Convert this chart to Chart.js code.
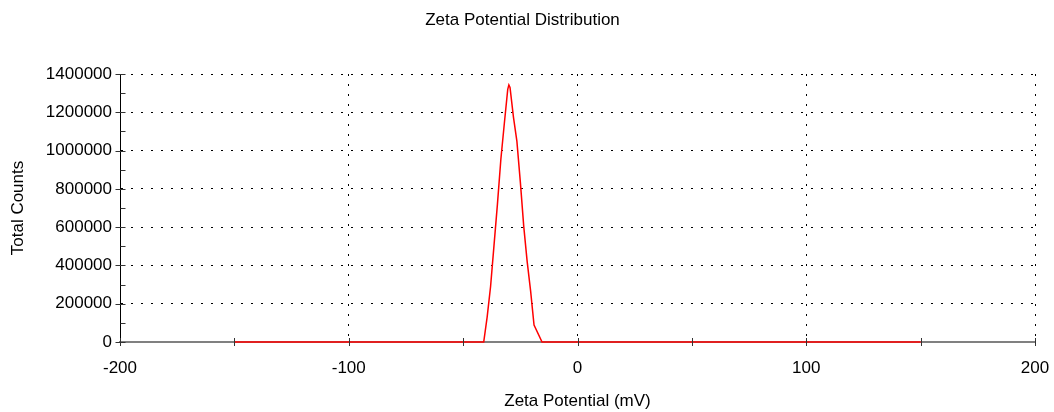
<!DOCTYPE html>
<html>
<head>
<meta charset="utf-8">
<title>Zeta Potential Distribution</title>
<script src="https://cdn.jsdelivr.net/npm/chart.js@4.4.1/dist/chart.umd.min.js"></script>
<style>
  html, body { margin: 0; padding: 0; background: #fff; }
  canvas { display: block; }
</style>
</head>
<body>
<canvas id="zeta-chart" width="1054" height="412"></canvas>
<script>
// Zeta potential distribution.

const zetaMv = [-150, -41, -39.5, -38, -36.5, -35, -33.5, -32, -30.5, -30, -29.5, -28, -26.5, -25, -23.5, -22, -20.5, -19, -15.5, 150];
const totalCounts = [0, 0, 130000, 290000, 505000, 720000, 955000, 1140000, 1320000, 1343000, 1330000, 1175000, 1049000, 838000, 604000, 420000, 267000, 89000, 0, 0];

const xMin = -200, xMax = 200, xStep = 100, xMinorStep = 50;
const yMin = 0, yMax = 1400000, yStep = 200000, yMinorStep = 100000;

const FONT = '"Liberation Sans", Arial, sans-serif';

// small tick marks that cross the axes, plus minor ones
const axisTicks = {
  id: 'axisTicks',
  afterDatasetsDraw(chart) {
    const { ctx, scales: { x, y } } = chart;
    ctx.save();
    ctx.strokeStyle = '#333';
    ctx.lineWidth = 1;
    ctx.beginPath();
    const ax = Math.round(x.left) + 0.5;
    for (let v = yMin; v <= yMax; v += yMinorStep) {
      const py = Math.round(y.getPixelForValue(v)) + 0.5;
      const major = v % yStep === 0;
      ctx.moveTo(ax - (major ? 5 : 0), py);
      ctx.lineTo(ax + 5, py);
    }
    const ay = y.bottom;
    for (let v = xMin; v <= xMax; v += xMinorStep) {
      const px = Math.round(x.getPixelForValue(v)) + 0.5;
      ctx.moveTo(px, ay - 4);
      ctx.lineTo(px, ay + 4);
    }
    ctx.stroke();
    ctx.restore();
  }
};

function init() {
  const ctx = document.getElementById('zeta-chart');
  Chart.defaults.font.family = FONT;
  Chart.defaults.font.size = 17;
  Chart.defaults.color = '#000';

  new Chart(ctx, {
    type: 'line',
    data: {
      datasets: [{
        label: 'Total Counts',
        data: zetaMv.map((v, i) => ({ x: v, y: totalCounts[i] })),
        borderColor: '#ff0000',
        borderWidth: 1.5,
        pointRadius: 0,
        tension: 0,
        fill: false,
        clip: false,
      }]
    },
    options: {
      responsive: false,
      animation: false,
      layout: { padding: { left: 0, right: 9, top: 0, bottom: 0 } },
      plugins: {
        legend: { display: false },
        tooltip: { enabled: false },
        title: {
          display: true,
          text: 'Zeta Potential Distribution',
          color: '#000',
          font: { size: 17, weight: 'normal' },
          padding: { top: 10, bottom: 43.6 }
        }
      },
      scales: {
        x: {
          type: 'linear',
          min: xMin,
          max: xMax,
          afterFit: s => { s.height = 70; s.paddingLeft = 0; s.paddingRight = 19; },
          ticks: {
            stepSize: xStep,
            padding: 16,
            maxRotation: 0,
            callback: v => String(v)
          },
          grid: { color: '#000', lineWidth: 1, drawTicks: false },
          border: { color: '#808080', width: 2, dash: [2, 8] },
          title: {
            display: true,
            text: 'Zeta Potential (mV)',
            font: { size: 17 },
            padding: { top: 0, bottom: 0 }
          }
        },
        y: {
          type: 'linear',
          min: yMin,
          max: yMax,
          afterFit: s => { s.width = 120; },
          ticks: {
            stepSize: yStep,
            padding: 8,
            callback: v => String(v)
          },
          grid: { color: '#000', lineWidth: 1, drawTicks: false },
          border: { color: '#000', width: 1, dash: [2, 8] },
          title: {
            display: true,
            text: 'Total Counts',
            font: { size: 17 },
            padding: { top: 8, bottom: 0 }
          }
        }
      }
    },
    plugins: [axisTicks]
  });
}

if (document.readyState === 'loading') {
  document.addEventListener('DOMContentLoaded', init);
} else {
  init();
}
</script>
</body>
</html>
